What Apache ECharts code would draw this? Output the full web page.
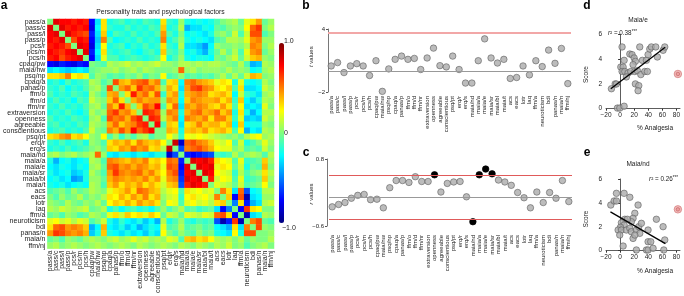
<!DOCTYPE html>
<html><head><meta charset="utf-8">
<script src="https://cdn.jsdelivr.net/npm/echarts@6/dist/echarts.min.js"></script>
<style>html,body{margin:0;padding:0;background:#fff}#c{width:684px;height:296px}</style>
</head><body><div id="c"></div>
<script>
const categories = ['pass/a','pass/c','pass/l','pass/p','pcs/r','pcs/m','pcs/h','cpaq/pw','maia/nw','psq/np',
  'cpaq/a','panas/p','ffm/o','ffm/d','ffm/nr','extraversion','openness','agreeable','conscientious','psq/pt',
  'erq/r','erq/s','maia/nd','maia/a','maia/e','maia/sr','maia/bl','maia/t','acs','eacs','lotr','laq','ffm/a',
  'neuroticism','bdi','panas/n','maia/n','ffm/nj'];

// lower triangle of the correlation matrix (row i, columns 0..i-1)
const corrLower = [
  [],
  [0.8],
  [0.75,0.8],
  [0.75,0.7,0.8],
  [0.7,0.75,0.7,0.6],
  [0.75,0.7,0.65,0.75,0.8],
  [0.7,0.75,0.6,0.7,0.75,0.8],
  [-0.75,-0.8,-0.7,-0.75,-0.8,-0.7,-0.75],
  [-0.3,-0.25,-0.3,-0.35,-0.3,-0.25,-0.3,-0.05],
  [0.3,0.3,0.35,0.5,0.25,0.3,0.2,-0.1,0.05],
  [-0.2,-0.15,-0.25,-0.1,-0.2,-0.15,-0.1,0.1,0.05,-0.1],
  [-0.15,-0.2,-0.1,-0.25,-0.15,-0.2,-0.1,0.05,0.1,-0.05,0.6],
  [-0.1,-0.2,-0.15,-0.2,-0.1,-0.15,-0.2,0.1,0.0,-0.1,0.4,0.45],
  [-0.2,-0.1,-0.2,-0.15,-0.25,-0.1,-0.15,0.15,0.05,0.0,0.35,0.55,0.3],
  [-0.15,-0.2,-0.1,-0.2,-0.15,-0.2,-0.1,0.05,0.1,-0.05,0.5,0.35,0.7,0.4],
  [-0.2,-0.15,-0.2,-0.1,-0.2,-0.25,-0.15,0.1,0.0,0.05,0.55,0.65,0.45,0.5,0.35],
  [-0.1,-0.2,-0.15,-0.2,-0.1,-0.15,-0.2,0.05,0.1,-0.1,0.6,0.5,0.55,0.4,0.6,0.7],
  [-0.15,-0.1,-0.2,-0.15,-0.2,-0.1,-0.15,0.1,0.05,0.0,0.4,0.55,0.35,0.45,0.5,0.65,0.7],
  [-0.2,-0.15,-0.1,-0.2,-0.15,-0.2,-0.1,0.15,0.0,-0.05,0.5,0.4,0.6,0.45,0.75,0.55,0.65,0.75],
  [0.3,0.35,0.45,0.5,0.3,0.35,0.25,0.05,0.0,0.25,-0.1,0.05,-0.15,0.0,-0.1,0.05,0.1,-0.1,0.0],
  [-0.15,-0.2,-0.1,-0.2,-0.15,-0.1,-0.2,0.05,0.0,-0.1,0.3,0.4,0.35,0.45,0.3,0.5,0.4,0.35,0.4,0.25],
  [-0.2,-0.15,-0.2,-0.1,-0.2,-0.15,-0.1,0.0,0.05,-0.05,0.35,0.3,0.45,0.4,0.55,0.45,0.5,0.3,0.35,0.1,0.85],
  [0.05,0.1,0.0,0.05,0.1,0.0,0.05,0.1,0.55,0.05,-0.25,-0.3,-0.2,-0.25,-0.3,-0.2,-0.25,-0.3,-0.2,-0.15,-0.85,-0.6],
  [-0.2,-0.4,-0.25,-0.2,-0.3,-0.25,-0.2,0.1,0.05,-0.1,0.5,0.45,0.4,0.35,0.45,0.4,0.5,0.3,0.35,0.25,0.55,0.5,-0.7],
  [-0.25,-0.3,-0.2,-0.25,-0.3,-0.2,-0.25,0.05,0.1,-0.05,0.55,0.6,0.45,0.5,0.4,0.5,0.45,0.35,0.4,0.2,0.6,0.55,-0.75,0.8],
  [-0.2,-0.3,-0.25,-0.2,-0.35,-0.3,-0.2,0.1,0.0,-0.1,0.45,0.65,0.5,0.45,0.5,0.55,0.4,0.5,0.35,0.25,0.5,0.6,-0.7,0.75,0.8],
  [-0.25,-0.2,-0.3,-0.25,-0.45,-0.4,-0.2,0.05,0.05,-0.05,0.4,0.5,0.45,0.4,0.45,0.4,0.5,0.35,0.45,0.2,0.45,0.5,-0.65,0.8,0.75,0.8],
  [-0.2,-0.25,-0.2,-0.3,-0.25,-0.2,-0.25,0.1,0.05,-0.1,0.35,0.45,0.3,0.4,0.35,0.45,0.3,0.4,0.3,0.15,0.35,0.4,-0.6,0.7,0.8,0.75,0.7],
  [-0.1,-0.05,0.0,-0.1,0.05,-0.05,0.0,0.1,0.05,0.0,0.2,0.3,0.35,0.45,0.3,0.55,0.5,0.4,0.35,0.1,0.2,0.25,-0.1,0.3,0.2,0.25,0.15,0.2],
  [0.0,-0.1,0.05,-0.05,0.0,0.1,-0.05,0.05,0.0,0.1,0.3,0.25,0.4,0.3,0.45,0.35,0.5,0.3,0.4,0.05,0.15,0.2,-0.15,0.25,0.3,0.2,0.25,0.15,0.5],
  [0.05,0.0,-0.05,0.1,0.0,-0.05,0.05,0.0,0.1,-0.05,0.25,0.35,0.3,0.4,0.3,0.45,0.35,0.4,0.3,0.0,0.25,0.2,-0.1,0.2,0.25,0.15,0.2,0.1,0.3,0.35],
  [0.1,0.05,0.15,0.1,0.05,0.1,0.15,-0.05,0.0,0.1,-0.2,-0.1,-0.25,-0.15,-0.1,-0.2,-0.15,-0.25,-0.1,0.05,-0.1,0.0,0.1,-0.1,-0.05,-0.15,-0.1,-0.05,-0.3,-0.75,-0.5],
  [-0.05,0.0,-0.1,0.05,0.0,-0.1,-0.05,0.1,0.05,-0.05,0.2,0.3,0.15,0.35,0.25,0.3,0.2,0.35,0.25,-0.05,0.15,0.1,-0.05,0.2,0.15,0.1,0.2,0.15,0.55,0.6,0.3,-0.75],
  [0.2,0.25,0.15,0.2,0.1,0.2,0.15,-0.1,0.0,0.15,-0.2,-0.3,-0.15,-0.25,-0.3,-0.2,-0.35,-0.25,-0.4,0.1,-0.2,-0.1,0.05,-0.15,-0.2,-0.1,-0.15,-0.1,-0.6,-0.9,-0.7,0.65,-0.9],
  [0.3,0.55,0.6,0.45,0.5,0.45,0.35,-0.4,-0.25,0.4,-0.25,-0.3,-0.2,-0.35,-0.25,-0.4,-0.3,-0.2,-0.25,0.2,-0.1,-0.05,0.1,-0.1,-0.05,0.0,-0.1,-0.05,-0.25,-0.3,-0.4,0.3,-0.3,0.5],
  [0.45,0.65,0.6,0.5,0.45,0.5,0.4,-0.35,-0.2,0.35,-0.2,-0.25,-0.3,-0.2,-0.3,-0.25,-0.35,-0.2,-0.3,0.25,0.0,-0.1,0.05,-0.05,-0.1,0.05,-0.05,0.0,-0.2,-0.25,-0.3,0.25,-0.2,0.6,0.6],
  [-0.05,0.0,-0.1,0.05,0.0,-0.05,0.05,0.1,0.05,0.0,0.1,0.15,0.05,0.1,0.2,0.1,0.15,0.05,0.1,0.05,0.2,0.15,-0.1,0.35,0.4,0.3,0.35,0.25,0.1,0.05,0.1,0.0,0.1,-0.05,0.05,0.0],
  [0.05,0.1,0.0,0.05,0.1,0.05,0.0,0.05,0.1,0.05,0.0,0.05,0.1,0.05,0.0,0.1,0.05,0.0,0.05,0.1,0.05,0.0,0.1,0.05,0.0,0.1,0.05,0.0,0.1,0.05,0.15,0.0,0.05,-0.1,0.0,0.05,0.1]
];

const tValues = [0.48,0.80,-0.15,0.48,0.70,0.48,-0.43,0.98,-1.94,0.20,1.11,1.42,1.11,1.20,0.14,1.24,2.18,0.51,0.39,1.42,
  0.14,-1.15,-1.15,0.98,3.06,1.24,0.76,1.11,-0.71,-0.62,0.48,-0.37,0.98,0.42,1.99,0.73,2.15,-1.20];
const tThreshold = 3.62;

const rValues = [-0.20,-0.15,-0.11,-0.02,0.04,0.06,-0.05,-0.04,-0.22,0.20,0.35,0.35,0.31,0.43,0.33,0.33,0.47,0.11,0.29,0.32,
  0.33,0.01,-0.51,0.47,0.59,0.49,0.36,0.32,0.25,0.10,-0.01,-0.22,0.11,-0.11,0.10,-0.02,0.35,-0.09];
const rSignificant = ['openness','maia/nd','maia/a','maia/e','maia/sr'];
const rThreshold = 0.46;

const maiaE = [[-12.3,1.61],[-7,2.0],[-5.2,1.99],[-3.8,0.05],[-0.4,0.05],[5.7,0.2],[2.8,4.98],[5.7,3.9],[1.0,3.36],[4.3,3.36],
  [2.8,3.0],[6.7,3.0],[11.3,2.88],[8.9,2.56],[13.8,4.41],[17,4.36],[19.9,4.09],[21.7,3.82],[18.4,3.55],[15.2,3.0],
  [20.9,3.0],[24.5,3.07],[21.7,2.0],[26.5,1.86],[25.5,1.45],[27.9,4.98],[31.6,3.9],[29.4,2.75],[35,3.0],[38.7,3.0],
  [37.3,3.9],[39.7,4.36],[42.1,4.81],[44.4,4.98],[50.6,4.98],[52.9,4.17],[61,4.71],[63.4,4.98]];
const maiaEFit = [[-13.2,1.61],[64,4.96]];
const maiaEOutlier = [[82,2.8]];

const maiaNd = [[-13.2,3.82],[-8.5,4.16],[-5.2,4.16],[-5.2,4.8],[5.7,4.8],[13.8,4.47],[25.5,3.82],[20.9,3.13],[18.4,2.71],[16,2.43],
  [6.7,2.63],[10.3,2.63],[1.9,2.34],[5.7,2.15],[0.5,1.96],[-2.8,1.73],[1.9,1.73],[-0.5,1.31],[8.9,1.73],[13.8,1.87],
  [16,1.59],[23.1,1.73],[26.5,2.01],[30.2,2.29],[27.9,1.45],[18.4,1.03],[20.9,1.31],[39.7,1.73],[51.5,2.63],[61,2.01],
  [39.7,0.75],[43.5,0.75],[63.4,0.9],[4.3,0.39],[23.1,0.06],[37.3,0.06],[39.7,0.06],[46.8,0.2],[62,0.06]];
const maiaNdFit = [[-13.7,3.25],[64.3,0.59]];
const maiaNdOutlier = [[82,3.46]];

const FONT = "'Liberation Sans', Arial, Helvetica, sans-serif";
const jet = ['#00007f','#0000ff','#007fff','#00ffff','#7fff7f','#ffff00','#ff7f00','#ff0000','#7f0000'];
const minus = v => String(v).replace('-', '\u2212');

const n = categories.length;
const heat = [];
for (let i = 0; i < n; i++) {
  for (let j = 0; j < n; j++) {
    let v = 0;
    if (j < i) v = corrLower[i][j];
    else if (j > i) v = corrLower[j][i];
    heat.push([j, i, v]);
  }
}

const ptStyle = {color:'#ababab', borderColor:'#555', borderWidth:0.7};
const catAxisLabel = {fontSize:6, color:'#222', fontFamily:FONT, rotate:90, interval:0};

const chart = echarts.init(document.getElementById('c'), null, {renderer:'canvas'});
const txt = (text, x, y, o={}) => Object.assign({type:'text', x, y, silent:true,
  style:Object.assign({text, fontSize:7, fontFamily:FONT, fill:'#222', align:'center', verticalAlign:'middle'}, o.style||{})}, o.el||{});

chart.setOption({
  animation:false,
  backgroundColor:'#fff',
  grid:[
    {left:45, top:19, width:229, height:231},
    {left:328, top:29, width:243, height:63},
    {left:329, top:159, width:243, height:67},
    {left:606, top:34.3, width:74, height:74.4},
    {left:606, top:179, width:74, height:71.7}
  ],
  xAxis:[
    {gridIndex:0, type:'category', data:categories, axisLine:{show:false}, axisTick:{show:false},
      axisLabel:{fontSize:7, color:'#222', fontFamily:FONT, rotate:90, interval:0, margin:2}},
    {gridIndex:1, type:'category', data:categories, boundaryGap:true, axisLine:{show:false}, axisTick:{show:false},
      axisLabel:Object.assign({margin:4}, catAxisLabel)},
    {gridIndex:2, type:'category', data:categories, boundaryGap:true, axisLine:{show:false}, axisTick:{show:false},
      axisLabel:Object.assign({margin:9}, catAxisLabel)},
    {gridIndex:3, type:'value', min:-20, max:85, interval:20, splitLine:{show:false},
      axisLine:{lineStyle:{color:'#333', width:0.8}}, axisTick:{length:2, lineStyle:{color:'#333'}},
      axisLabel:{fontSize:6.5, color:'#222', fontFamily:FONT, margin:3, showMaxLabel:false, formatter:minus}},
    {gridIndex:4, type:'value', min:-20, max:85, interval:20, splitLine:{show:false},
      axisLine:{lineStyle:{color:'#333', width:0.8}}, axisTick:{length:2, lineStyle:{color:'#333'}},
      axisLabel:{fontSize:6.5, color:'#222', fontFamily:FONT, margin:3, showMaxLabel:false, formatter:minus}}
  ],
  yAxis:[
    {gridIndex:0, type:'category', data:categories, inverse:true, axisLine:{show:false}, axisTick:{show:false},
      axisLabel:{fontSize:7, color:'#222', fontFamily:FONT, interval:0, margin:2}},
    {gridIndex:1, type:'value', min:-2, max:4, interval:6, splitLine:{show:false},
      axisLine:{show:true, lineStyle:{color:'#555', width:0.8}}, axisTick:{show:true, length:2, lineStyle:{color:'#555'}},
      axisLabel:{fontSize:6, color:'#222', fontFamily:FONT, margin:3, formatter:minus}},
    {gridIndex:2, type:'value', min:-0.6, max:0.8, interval:1.4, offset:2, splitLine:{show:false},
      axisLine:{show:true, lineStyle:{color:'#555', width:0.8}}, axisTick:{show:true, length:2, lineStyle:{color:'#555'}},
      axisLabel:{fontSize:6, color:'#222', fontFamily:FONT, margin:3, formatter:v => minus(v.toFixed(1))}},
    {gridIndex:3, type:'value', min:0, max:6, interval:2, offset:1, splitLine:{show:false},
      axisLine:{show:true, lineStyle:{color:'#333', width:0.8}}, axisTick:{show:true, length:2, lineStyle:{color:'#333'}},
      axisLabel:{fontSize:6.5, color:'#222', fontFamily:FONT, margin:3}},
    {gridIndex:4, type:'value', min:0, max:6, interval:2, offset:1, splitLine:{show:false},
      axisLine:{show:true, lineStyle:{color:'#333', width:0.8}}, axisTick:{show:true, length:2, lineStyle:{color:'#333'}},
      axisLabel:{fontSize:6.5, color:'#222', fontFamily:FONT, margin:3}}
  ],
  visualMap:{type:'continuous', seriesIndex:0, min:-1, max:1, inRange:{color:jet}, orient:'vertical',
    left:279, top:43, itemWidth:5, itemHeight:180, padding:0, calculable:false, hoverLink:false, text:null, showLabel:false},
  series:[
    {type:'heatmap', xAxisIndex:0, yAxisIndex:0, data:heat, itemStyle:{borderWidth:0}, progressive:0},
    {type:'scatter', xAxisIndex:1, yAxisIndex:1, data:[], z:1, silent:true,
      markLine:{silent:true, symbol:'none', label:{show:false}, animation:false, data:[
        {yAxis:0, lineStyle:{color:'#999', width:1.2, type:'solid'}},
        {yAxis:tThreshold, lineStyle:{color:'#f2a7a7', width:2, type:'solid'}}]}},
    {type:'scatter', xAxisIndex:1, yAxisIndex:1, z:3, symbolSize:6.5, itemStyle:ptStyle, data:tValues},
    {type:'scatter', xAxisIndex:2, yAxisIndex:2, data:[], z:1, silent:true,
      markLine:{silent:true, symbol:'none', label:{show:false}, animation:false,
        lineStyle:{color:'#e05a5a', width:1.1, type:'solid'},
        data:[{yAxis:rThreshold}, {yAxis:-rThreshold}]}},
    {type:'scatter', xAxisIndex:2, yAxisIndex:2, data:[], z:1, silent:true,
      markLine:{silent:true, symbol:'none', label:{show:false}, animation:false,
        lineStyle:{color:'#999', width:1, type:'solid'},
        data:[{yAxis:0}]}},
    {type:'scatter', xAxisIndex:2, yAxisIndex:2, z:3, symbolSize:6.5,
      data:rValues.map((v,i) => rSignificant.includes(categories[i])
        ? {value:v, itemStyle:{color:'#000', borderColor:'#000', borderWidth:0.7, opacity:1}}
        : {value:v, itemStyle:ptStyle})},
    {type:'scatter', xAxisIndex:3, yAxisIndex:3, z:3, symbolSize:6.5, itemStyle:ptStyle, data:maiaE},
    {type:'line', xAxisIndex:3, yAxisIndex:3, z:4, data:maiaEFit, symbol:'none', lineStyle:{color:'#000', width:1.3}},
    {type:'scatter', xAxisIndex:3, yAxisIndex:3, z:3, symbolSize:7.5, clip:false,
      itemStyle:{color:'#eeaaaa', borderColor:'#d07070', borderWidth:0.8}, data:maiaEOutlier},
    {type:'scatter', xAxisIndex:3, yAxisIndex:3, z:4, symbolSize:3.5, clip:false,
      itemStyle:{color:'#e89a9a', borderColor:'#c05555', borderWidth:0.7}, data:maiaEOutlier},
    {type:'scatter', xAxisIndex:4, yAxisIndex:4, z:3, symbolSize:6.5, itemStyle:ptStyle, data:maiaNd},
    {type:'line', xAxisIndex:4, yAxisIndex:4, z:4, data:maiaNdFit, symbol:'none', lineStyle:{color:'#000', width:1.3}},
    {type:'scatter', xAxisIndex:4, yAxisIndex:4, z:3, symbolSize:7.5, clip:false,
      itemStyle:{color:'#eeaaaa', borderColor:'#d07070', borderWidth:0.8}, data:maiaNdOutlier},
    {type:'scatter', xAxisIndex:4, yAxisIndex:4, z:4, symbolSize:3.5, clip:false,
      itemStyle:{color:'#e89a9a', borderColor:'#c05555', borderWidth:0.7}, data:maiaNdOutlier}
  ],
  graphic:[
    txt('a', 4, 6, {style:{fontSize:12, fontWeight:'bold', fill:'#000'}}),
    txt('b', 306, 6, {style:{fontSize:12, fontWeight:'bold', fill:'#000'}}),
    txt('c', 306, 153, {style:{fontSize:12, fontWeight:'bold', fill:'#000'}}),
    txt('d', 587, 6, {style:{fontSize:12, fontWeight:'bold', fill:'#000'}}),
    txt('e', 587, 153, {style:{fontSize:12, fontWeight:'bold', fill:'#000'}}),
    txt('Personality traits and psychological factors', 160.5, 12.5, {style:{fontSize:6.8}}),
    txt('1.0', 284, 41, {style:{align:'left', fontSize:7}}),
    txt('0', 284, 133, {style:{align:'left', fontSize:7}}),
    txt('\u22121.0', 282, 228.5, {style:{align:'left', fontSize:7}}),
    txt('{i|t} values', 311.7, 56.7, {style:{fontSize:6, rich:{i:{fontStyle:'italic', fontSize:6, fontFamily:FONT}}}, el:{rotation:Math.PI/2}}),
    txt('{i|r} values', 311.7, 194, {style:{fontSize:6, rich:{i:{fontStyle:'italic', fontSize:6, fontFamily:FONT}}}, el:{rotation:Math.PI/2}}),
    txt('Maia/e', 638, 20.3, {style:{fontSize:6.5}}),
    txt('Maia/nd', 638, 164.6, {style:{fontSize:6.5}}),
    txt('{i|r}\u00b2 = 0.38{s|***}', 608, 33.5, {style:{align:'left', fontSize:6.3, rich:{i:{fontStyle:'italic', fontSize:6.3, fontFamily:FONT}, s:{fontSize:4.5, fontFamily:FONT, padding:[0,0,3,0]}}}}),
    txt('{i|r}\u00b2 = 0.26{s|***}', 678, 179.5, {style:{align:'right', fontSize:6.3, rich:{i:{fontStyle:'italic', fontSize:6.3, fontFamily:FONT}, s:{fontSize:4.5, fontFamily:FONT, padding:[0,0,3,0]}}}}),
    txt('Score', 586.7, 74.5, {style:{fontSize:6.5}, el:{rotation:Math.PI/2}}),
    txt('Score', 586.7, 219, {style:{fontSize:6.5}, el:{rotation:Math.PI/2}}),
    txt('% Analgesia', 655, 128.3, {style:{fontSize:6.5}}),
    txt('% Analgesia', 655, 271.3, {style:{fontSize:6.5}})
  ]
});
</script></body></html>
